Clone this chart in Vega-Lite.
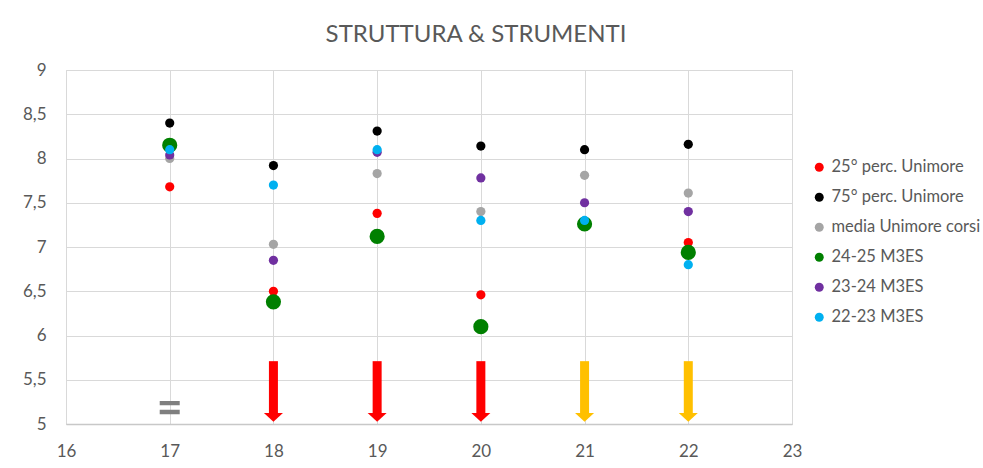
{
  "$schema": "https://vega.github.io/schema/vega-lite/v6.json",
  "autosize": {"type": "none"},
  "width": 726,
  "height": 354,
  "padding": {"left": 66, "top": 70, "right": 191, "bottom": 44},
  "background": "white",
  "title": {
    "text": "STRUTTURA & STRUMENTI",
    "font": "Lato",
    "fontSize": 24,
    "fontWeight": "normal",
    "color": "#595959",
    "anchor": "middle",
    "dx": 47,
    "offset": 14
  },
  "config": {
    "view": {"stroke": "#d9d9d9", "strokeWidth": 1},
    "axis": {
      "labelFont": "Lato",
      "labelFontSize": 17,
      "labelColor": "#595959",
      "gridColor": "#d9d9d9",
      "gridWidth": 1,
      "ticks": false,
      "domain": false,
      "title": null
    },
    "legend": {
      "labelFont": "Lato",
      "labelFontSize": 16.5,
      "labelColor": "#595959"
    }
  },
  "datasets": {
    "points": [
      {"x": 17, "y": 7.68, "serie": "25° perc. Unimore"},
      {"x": 18, "y": 6.50, "serie": "25° perc. Unimore"},
      {"x": 19, "y": 7.38, "serie": "25° perc. Unimore"},
      {"x": 20, "y": 6.46, "serie": "25° perc. Unimore"},
      {"x": 21, "y": 7.24, "serie": "25° perc. Unimore"},
      {"x": 22, "y": 7.05, "serie": "25° perc. Unimore"},
      {"x": 17, "y": 8.40, "serie": "75° perc. Unimore"},
      {"x": 18, "y": 7.92, "serie": "75° perc. Unimore"},
      {"x": 19, "y": 8.31, "serie": "75° perc. Unimore"},
      {"x": 20, "y": 8.14, "serie": "75° perc. Unimore"},
      {"x": 21, "y": 8.10, "serie": "75° perc. Unimore"},
      {"x": 22, "y": 8.16, "serie": "75° perc. Unimore"},
      {"x": 17, "y": 8.00, "serie": "media Unimore corsi"},
      {"x": 18, "y": 7.03, "serie": "media Unimore corsi"},
      {"x": 19, "y": 7.83, "serie": "media Unimore corsi"},
      {"x": 20, "y": 7.40, "serie": "media Unimore corsi"},
      {"x": 21, "y": 7.81, "serie": "media Unimore corsi"},
      {"x": 22, "y": 7.61, "serie": "media Unimore corsi"},
      {"x": 17, "y": 8.15, "serie": "24-25 M3ES"},
      {"x": 18, "y": 6.38, "serie": "24-25 M3ES"},
      {"x": 19, "y": 7.12, "serie": "24-25 M3ES"},
      {"x": 20, "y": 6.10, "serie": "24-25 M3ES"},
      {"x": 21, "y": 7.26, "serie": "24-25 M3ES"},
      {"x": 22, "y": 6.94, "serie": "24-25 M3ES"},
      {"x": 17, "y": 8.04, "serie": "23-24 M3ES"},
      {"x": 18, "y": 6.85, "serie": "23-24 M3ES"},
      {"x": 19, "y": 8.07, "serie": "23-24 M3ES"},
      {"x": 20, "y": 7.78, "serie": "23-24 M3ES"},
      {"x": 21, "y": 7.50, "serie": "23-24 M3ES"},
      {"x": 22, "y": 7.40, "serie": "23-24 M3ES"},
      {"x": 17, "y": 8.10, "serie": "22-23 M3ES"},
      {"x": 18, "y": 7.70, "serie": "22-23 M3ES"},
      {"x": 19, "y": 8.10, "serie": "22-23 M3ES"},
      {"x": 20, "y": 7.30, "serie": "22-23 M3ES"},
      {"x": 21, "y": 7.30, "serie": "22-23 M3ES"},
      {"x": 22, "y": 6.80, "serie": "22-23 M3ES"}
    ],
    "arrows": [
      {"x": 18, "top": 5.71, "bottom": 5.12, "tip": 5.075, "trend": "giù"},
      {"x": 19, "top": 5.71, "bottom": 5.12, "tip": 5.075, "trend": "giù"},
      {"x": 20, "top": 5.71, "bottom": 5.12, "tip": 5.075, "trend": "giù"},
      {"x": 21, "top": 5.71, "bottom": 5.12, "tip": 5.075, "trend": "lieve"},
      {"x": 22, "top": 5.71, "bottom": 5.12, "tip": 5.075, "trend": "lieve"}
    ],
    "equal": [
      {"x": 17, "y": 5.185}
    ]
  },
  "encoding": {
    "x": {
      "type": "quantitative",
      "scale": {"domain": [16, 23], "nice": false, "zero": false},
      "axis": {"values": [16, 17, 18, 19, 20, 21, 22, 23], "labelPadding": 19, "labelFlush": false, "domain": true, "domainColor": "#c8c8c8", "domainWidth": 1.5}
    }
  },
  "layer": [
    {
      "data": {"name": "arrows"},
      "mark": {"type": "rule", "strokeWidth": 9, "strokeCap": "butt"},
      "encoding": {
        "x": {"field": "x", "type": "quantitative"},
        "y": {"field": "top", "type": "quantitative", "scale": {"domain": [5, 9], "nice": false, "zero": false},
              "axis": {"values": [5, 5.5, 6, 6.5, 7, 7.5, 8, 8.5, 9], "labelExpr": "replace(format(datum.value, '~g'), '.', ',')", "labelPadding": 20, "labelFlush": false}},
        "y2": {"field": "bottom"},
        "stroke": {"field": "trend", "type": "nominal", "scale": {"domain": ["giù", "lieve"], "range": ["#ff0000", "#ffc000"]}, "legend": null}
      }
    },
    {
      "data": {"name": "arrows"},
      "mark": {"type": "point", "shape": "M-1,-0.47L1,-0.47L0,0.47Z", "filled": true, "opacity": 1, "size": 361, "strokeWidth": 0},
      "encoding": {
        "x": {"field": "x", "type": "quantitative"},
        "y": {"field": "tip", "type": "quantitative"},
        "fill": {"field": "trend", "type": "nominal", "scale": {"domain": ["giù", "lieve"], "range": ["#ff0000", "#ffc000"]}, "legend": null}
      }
    },
    {
      "data": {"name": "equal"},
      "mark": {"type": "point", "shape": "M-1,-0.67L1,-0.67L1,-0.23L-1,-0.23Z M-1,0.2L1,0.2L1,0.67L-1,0.67Z", "filled": true, "opacity": 1, "size": 400, "color": "#7f7f7f", "strokeWidth": 0},
      "encoding": {
        "x": {"field": "x", "type": "quantitative"},
        "y": {"field": "y", "type": "quantitative"}
      }
    },
    {
      "data": {"name": "points"},
      "mark": {"type": "circle", "opacity": 1},
      "encoding": {
        "x": {"field": "x", "type": "quantitative"},
        "y": {"field": "y", "type": "quantitative"},
        "color": {
          "field": "serie",
          "type": "nominal",
          "scale": {
            "domain": ["25° perc. Unimore", "75° perc. Unimore", "media Unimore corsi", "24-25 M3ES", "23-24 M3ES", "22-23 M3ES"],
            "range": ["#ff0000", "#000000", "#a5a5a5", "#008000", "#7030a0", "#00b0f0"]
          },
          "legend": {
            "title": null,
            "orient": "none",
            "legendX": 745,
            "legendY": 89,
            "symbolType": "circle",
            "symbolSize": 80,
            "symbolOpacity": 1,
            "rowPadding": 13,
            "labelOffset": 4
          }
        },
        "size": {
          "condition": {"test": "datum.serie === '24-25 M3ES'", "value": 230},
          "value": 85
        }
      }
    }
  ]
}
